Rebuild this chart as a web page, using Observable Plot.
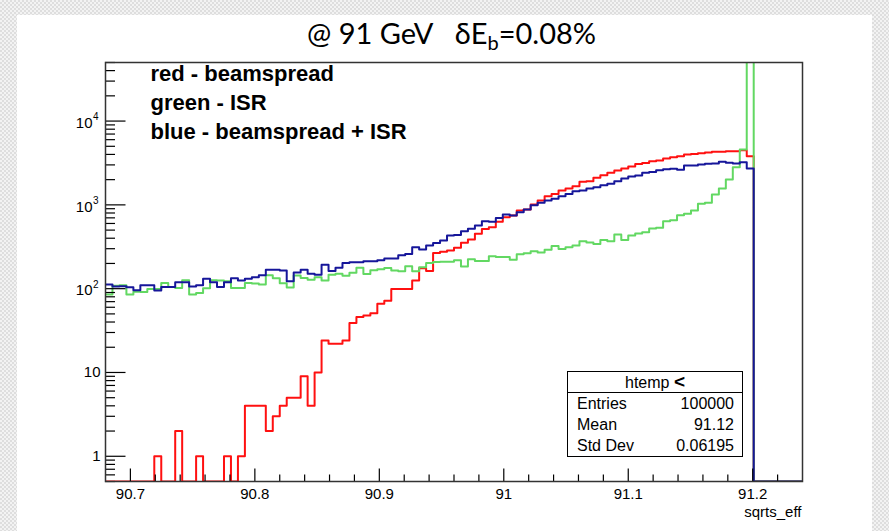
<!DOCTYPE html>
<html>
<head>
<meta charset="utf-8">
<script src="https://cdn.jsdelivr.net/npm/d3@7"></script>
<script src="https://cdn.jsdelivr.net/npm/@observablehq/plot@0.6"></script>
<style>
  html, body { margin: 0; padding: 0; }
  body {
    width: 889px; height: 531px; overflow: hidden;
    background: repeating-conic-gradient(#dedede 0% 25%, #f3f3f3 0% 50%) 0 0 / 4px 4px;
  }
  #wrap { position: relative; width: 889px; height: 531px; }
  #sheet { position: absolute; left: 17px; top: 15px; width: 855px; height: 516px; background: #fff; }
  #chart { position: absolute; left: 0; top: 0; }
  .ov { position: absolute; white-space: nowrap; }
  .title { left: 151.5px; width: 600px; top: 18px; text-align: center;
           font-family: Lato, "Open Sans", sans-serif; font-size: 29px; line-height: 29px; color: #000; }
  .title sub { font-size: 20px; vertical-align: -6px; line-height: 0; }
  .leg { left: 150.5px; font-family: "Liberation Sans", Arial, sans-serif; font-weight: bold;
         font-size: 22px; line-height: 22px; color: #000; }
  .statsbox { left: 567px; top: 370.5px; width: 176px; height: 86px; box-sizing: border-box;
              border: 1px solid #000; background: #fff; }
  .statsline { left: 567px; top: 392px; width: 176px; height: 0; border-top: 1px solid #000; }
  .st { font-family: "Liberation Sans", Arial, sans-serif; font-size: 16px; line-height: 16px; color: #000; }
</style>
</head>
<body>
<div id="wrap">
  <div id="sheet"></div>
  <div id="chart"></div>
</div>
<script>
// ---- histogram definition (htemp: 100 bins) ----
const binLo = 90.68;
const binHi = 91.24;
const nBins = 100;

// ---- bin contents ----
const redBeamspread = [
  0, 0, 0, 0, 0, 0, 0, 1, 0, 0,
  2, 0, 0, 1, 0, 0, 0, 1, 0, 1,
  4, 4, 4, 2, 3, 4, 5, 5, 9, 4,
  10, 24, 22, 22, 24, 39, 46, 48, 51, 66,
  72, 99, 99, 99, 125, 175, 162, 267, 275, 285,
  307, 352, 385, 451, 517, 541, 627, 713, 746, 856,
  880, 1009, 1127, 1268, 1352, 1483, 1567, 1671, 1883, 1918,
  2100, 2260, 2410, 2570, 2711, 2870, 3081, 3166, 3315, 3375,
  3565, 3700, 3805, 3985, 4058, 4131, 4210, 4290, 4290, 4370,
  4370, 4490, 3805, 0, 0, 0, 0, 0, 0, 0
];
const greenISR = [
  85, 108, 110, 85, 92, 91, 99, 99, 117, 105,
  102, 126, 85, 89, 101, 126, 125, 123, 102, 102,
  117, 115, 112, 145, 133, 116, 103, 144, 134, 128,
  137, 125, 147, 151, 143, 155, 178, 150, 166, 170,
  177, 165, 161, 185, 161, 180, 203, 208, 210, 210,
  219, 184, 224, 214, 214, 244, 238, 238, 222, 258,
  264, 280, 271, 291, 323, 297, 312, 328, 368, 355,
  342, 382, 368, 442, 380, 432, 455, 472, 522, 532,
  638, 656, 753, 781, 857, 1029, 1058, 1329, 1567, 2006,
  2813, 4575, 65700, 0, 0, 0, 0, 0, 0, 0
];
const blueBoth = [
  112, 106, 107, 104, 96, 110, 110, 95, 105, 105,
  119, 119, 106, 110, 131, 119, 105, 119, 133, 125,
  131, 137, 145, 168, 168, 165, 123, 156, 168, 151,
  147, 193, 162, 178, 202, 207, 207, 213, 213, 219,
  229, 229, 251, 260, 313, 293, 327, 350, 377, 431,
  436, 484, 520, 568, 638, 630, 699, 767, 746, 818,
  880, 991, 1057, 1127, 1180, 1268, 1352, 1456, 1483, 1567,
  1626, 1718, 1782, 1918, 2062, 2188, 2238, 2410, 2476, 2592,
  2665, 2690, 2617, 2946, 2946, 3029, 3085, 3114, 3262, 3172,
  3114, 3229, 2715, 0, 0, 0, 0, 0, 0, 0
];

// ---- axes ----
const yMin = 0.5, yMax = 5e4;
const xMajor = [90.7, 90.8, 90.9, 91.0, 91.1, 91.2];
const xLabels = ["90.7", "90.8", "90.9", "91", "91.1", "91.2"];
const yPlain = [1, 10];
const yPlainLabels = ["1", "10"];
const yPow = [100, 1000, 10000];
const yPowBase = ["10", "10", "10"];
const yPowExp = ["2", "3", "4"];
const xTitle = "sqrts_eff";

const legendLines = ["red - beamspread", "green - ISR", "blue - beamspread + ISR"];
const titleMain = "@ 91 GeV\u00a0\u00a0 \u03b4E";
const titleSub = "b";
const titleTail = "=0.08%";
const statsName = "htemp";
const statsRows = [["Entries", "100000"], ["Mean", "91.12"], ["Std Dev", "0.06195"]];

const colRed = "#ff1010";
const colGreen = "#62d862";
const colBlue = "#16169a";

// ---- derived ----
const W = 889, H = 531;
const mL = 105, mR = 87, mT = 62, mB = 50;
const plotW = W - mL - mR, plotH = H - mT - mB;
const edges = d3.range(nBins + 1).map(i => binLo + i * (binHi - binLo) / nBins);
function steps(vals) {
  const pts = vals.map((v, i) => ({x: edges[i], y: Math.max(v, yMin)}));
  pts.push({x: edges[nBins], y: Math.max(vals[nBins - 1], yMin)});
  return pts;
}
const xMinor = d3.range(90.70, 91.235, 0.02).filter(v => !xMajor.some(m => Math.abs(m - v) < 1e-6));
const yMinor = [];
for (let d = -1; d <= 4; d++) for (let m = 2; m <= 9; m++) {
  const v = m * Math.pow(10, d);
  if (v >= yMin - 1e-9 && v <= yMax + 1e-6) yMinor.push(v);
}
const font = "Liberation Sans, Arial, sans-serif";

const chart = Plot.plot({
  width: W, height: H,
  marginLeft: mL, marginRight: mR, marginTop: mT, marginBottom: mB,
  style: {background: "transparent", overflow: "visible"},
  x: {domain: [binLo, binHi], axis: null},
  y: {type: "log", domain: [yMin, yMax], axis: null},
  marks: [
    Plot.line(steps(redBeamspread), {x: "x", y: "y", curve: "step-after", stroke: colRed, strokeWidth: 2, clip: true}),
    Plot.line(steps(greenISR), {x: "x", y: "y", curve: "step-after", stroke: colGreen, strokeWidth: 2, clip: true}),
    Plot.line(steps(blueBoth), {x: "x", y: "y", curve: "step-after", stroke: colBlue, strokeWidth: 2, clip: true}),
    Plot.tickX(xMinor, {x: d => d, insetTop: plotH - 6.5, stroke: "#000", strokeWidth: 1.2}),
    Plot.tickX(xMajor, {x: d => d, insetTop: plotH - 12.5, stroke: "#000", strokeWidth: 1.2}),
    Plot.tickY(yMinor, {y: d => d, insetRight: plotW - 10, stroke: "#000", strokeWidth: 1.2}),
    Plot.tickY([...yPlain, ...yPow], {y: d => d, insetRight: plotW - 20.5, stroke: "#000", strokeWidth: 1.2}),
    Plot.frame({stroke: "#333", strokeWidth: 1.5}),
    Plot.text(xMajor, {x: d => d, text: xLabels, frameAnchor: "bottom", lineAnchor: "bottom", dy: 17,
      fontSize: 15, fontFamily: font, fill: "#000"}),
    Plot.text([xTitle], {text: d => d, frameAnchor: "bottom-right", textAnchor: "end", lineAnchor: "bottom",
      dx: -1, dy: 35, fontSize: 15, fontFamily: font, fill: "#000"}),
    Plot.text(yPlain, {y: d => d, text: yPlainLabels, frameAnchor: "left", textAnchor: "end", dx: -5,
      fontSize: 15, fontFamily: font, fill: "#000"}),
    Plot.text(yPow, {y: d => d, text: yPowBase, frameAnchor: "left", textAnchor: "end", dx: -13, dy: 2,
      fontSize: 15, fontFamily: font, fill: "#000"}),
    Plot.text(yPow, {y: d => d, text: yPowExp, frameAnchor: "left", textAnchor: "end", dx: -7, dy: -4,
      fontSize: 10, fontFamily: font, fill: "#000"})
  ]
});
document.getElementById("chart").appendChild(chart);

// ---- overlays: title, legend text, stats box ----
const wrap = document.getElementById("wrap");
function addDiv(cls, css, html) {
  const d = document.createElement("div");
  d.className = "ov " + cls;
  if (css) Object.assign(d.style, css);
  if (html != null) d.innerHTML = html;
  wrap.appendChild(d);
  return d;
}
addDiv("title", null, `${titleMain}<sub>${titleSub}</sub>${titleTail}`);
const legBaselines = [82, 111, 140];
legendLines.forEach((t, i) => addDiv("leg", {top: (legBaselines[i] - 18.6) + "px"}, t));
addDiv("statsbox");
addDiv("statsline");
addDiv("st", {left: "567px", width: "176px", textAlign: "center", top: (387 - 13.5) + "px"},
  `${statsName} <b style="font-size:19px">&lt;</b>`);
const rowBase = [409.3, 430.5, 451.5];
statsRows.forEach((r, i) => {
  addDiv("st", {left: "577px", top: (rowBase[i] - 13.5) + "px"}, r[0]);
  addDiv("st", {left: "584px", width: "150px", textAlign: "right", top: (rowBase[i] - 13.5) + "px"}, r[1]);
});
</script>
</body>
</html>
